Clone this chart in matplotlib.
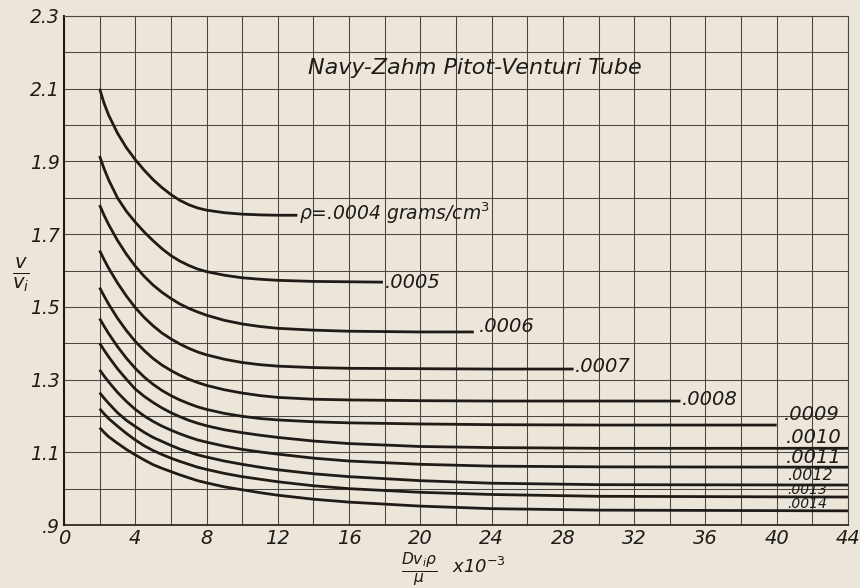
import matplotlib
matplotlib.use("Agg")
import matplotlib.pyplot as plt
import numpy as np

# ---- data ----
densities = [".0004", ".0005", ".0006", ".0007", ".0008", ".0009",
             ".0010", ".0011", ".0012", ".0013", ".0014"]

x_head = [2, 2.25, 2.5, 3, 3.5, 4, 4.5, 5, 5.5, 6, 6.5, 7, 7.5, 8, 9, 10, 11, 12]

x_0004 = x_head + [13.1]
y_0004 = [2.100, 2.060, 2.028, 1.978, 1.938, 1.905, 1.876, 1.850, 1.828, 1.809, 1.793, 1.781, 1.772,
          1.766, 1.759, 1.755, 1.753, 1.752, 1.752]

x_0005 = x_head + [14, 16, 17.9]
y_0005 = [1.915, 1.880, 1.850, 1.800, 1.763, 1.733, 1.706, 1.682, 1.660, 1.641, 1.626, 1.614, 1.604,
          1.597, 1.587, 1.580, 1.576, 1.573, 1.570, 1.569, 1.568]

x_0006 = x_head + [14, 16, 20, 23]
y_0006 = [1.780, 1.752, 1.727, 1.683, 1.645, 1.612, 1.584, 1.560, 1.540, 1.523, 1.508, 1.496, 1.486,
          1.477, 1.463, 1.453, 1.446, 1.441, 1.436, 1.433, 1.431, 1.431]

x_0007 = x_head + [14, 16, 20, 24, 28.6]
y_0007 = [1.655, 1.630, 1.607, 1.566, 1.530, 1.498, 1.471, 1.448, 1.428, 1.412, 1.398, 1.386, 1.376,
          1.368, 1.356, 1.347, 1.341, 1.337, 1.333, 1.331, 1.330, 1.329, 1.329]

x_0008 = x_head + [14, 16, 20, 24, 30, 34.6]
y_0008 = [1.553, 1.530, 1.508, 1.469, 1.435, 1.405, 1.380, 1.358, 1.340, 1.325, 1.312, 1.301, 1.292,
          1.284, 1.272, 1.263, 1.256, 1.251, 1.246, 1.244, 1.242, 1.241, 1.241, 1.241]

x_0009 = x_head + [14, 16, 20, 24, 30, 40]
y_0009 = [1.468, 1.447, 1.427, 1.391, 1.359, 1.331, 1.307, 1.287, 1.270, 1.256, 1.244, 1.234, 1.225,
          1.218, 1.207, 1.199, 1.193, 1.189, 1.184, 1.181, 1.178, 1.176, 1.175, 1.175]

x_0010 = x_head + [14, 16, 20, 24, 30, 44]
y_0010 = [1.400, 1.381, 1.363, 1.330, 1.301, 1.274, 1.254, 1.237, 1.222, 1.209, 1.198, 1.188, 1.180,
          1.173, 1.162, 1.154, 1.147, 1.141, 1.131, 1.124, 1.116, 1.113, 1.111, 1.111]

x_0011 = x_head + [14, 16, 20, 24, 30, 44]
y_0011 = [1.327, 1.310, 1.294, 1.265, 1.240, 1.218, 1.200, 1.185, 1.172, 1.161, 1.151, 1.142, 1.134,
          1.128, 1.117, 1.108, 1.101, 1.095, 1.084, 1.076, 1.067, 1.062, 1.060, 1.059]

x_0012 = x_head + [14, 16, 20, 24, 30, 44]
y_0012 = [1.264, 1.249, 1.235, 1.209, 1.188, 1.171, 1.155, 1.141, 1.130, 1.119, 1.109, 1.101, 1.093,
          1.087, 1.076, 1.067, 1.059, 1.052, 1.041, 1.033, 1.022, 1.015, 1.011, 1.010]

x_0013 = x_head + [14, 16, 20, 24, 30, 44]
y_0013 = [1.220, 1.206, 1.193, 1.172, 1.152, 1.134, 1.118, 1.105, 1.094, 1.084, 1.075, 1.067, 1.059,
          1.053, 1.042, 1.033, 1.026, 1.019, 1.008, 1.000, 0.990, 0.984, 0.979, 0.977]

x_0014 = x_head + [14, 16, 20, 24, 30, 44]
y_0014 = [1.168, 1.155, 1.143, 1.125, 1.108, 1.093, 1.079, 1.066, 1.056, 1.047, 1.038, 1.030, 1.022,
          1.016, 1.005, 0.997, 0.989, 0.982, 0.971, 0.963, 0.952, 0.945, 0.941, 0.939]

curve_x = [x_0004, x_0005, x_0006, x_0007, x_0008, x_0009, x_0010, x_0011, x_0012, x_0013, x_0014]
curve_y = [y_0004, y_0005, y_0006, y_0007, y_0008, y_0009, y_0010, y_0011, y_0012, y_0013, y_0014]

label_texts = [r"$\rho$=.0004 grams/cm$^3$", ".0005", ".0006", ".0007", ".0008", ".0009",
               ".0010", ".0011", ".0012", ".0013", ".0014"]
label_x = [13.2, 18.0, 23.3, 28.7, 34.7, 40.4, 40.5, 40.5, 40.6, 40.6, 40.6]
label_y = [1.758, 1.566, 1.445, 1.337, 1.244, 1.203, 1.142, 1.087, 1.036, 0.997, 0.959]
label_size = [13.5, 14, 14, 14, 14, 14, 14, 14, 11.5, 10, 10]

x_ticks = [0, 4, 8, 12, 16, 20, 24, 28, 32, 36, 40, 44]
y_ticks = [0.9, 1.1, 1.3, 1.5, 1.7, 1.9, 2.1, 2.3]
y_tick_labels = [".9", "1.1", "1.3", "1.5", "1.7", "1.9", "2.1", "2.3"]

title = "Navy-Zahm Pitot-Venturi Tube"

# ---- drawing ----
paper = "#ebe5da"
ink = "#1f1b17"
gridc = "#4a453f"

plt.rcParams['font.family'] = ['DejaVu Sans']
plt.rcParams['mathtext.fontset'] = 'dejavusans'

fig = plt.figure(figsize=(8.6, 5.88), dpi=100, facecolor=paper)
ax = fig.add_axes([0.0744, 0.1071, 0.9116, 0.8657])
ax.set_facecolor(paper)
ax.set_xlim(0, 44)
ax.set_ylim(0.9, 2.3)

for xv in np.arange(0, 44.01, 2):
    ax.axvline(xv, color=gridc, lw=0.75, zorder=1)
for yv in np.arange(0.9, 2.301, 0.1):
    ax.axhline(yv, color=gridc, lw=0.75, zorder=1)

for sp in ax.spines.values():
    sp.set_color(gridc)
    sp.set_linewidth(0.8)
ax.spines['left'].set_linewidth(1.5)
ax.spines['left'].set_color(ink)
ax.spines['bottom'].set_linewidth(1.2)
ax.spines['bottom'].set_color(ink)

for xs, ys in zip(curve_x, curve_y):
    ax.plot(xs, ys, color=ink, lw=2.0, solid_capstyle='butt', solid_joinstyle='round', zorder=3)

for t, lx, ly, fs in zip(label_texts, label_x, label_y, label_size):
    ax.text(lx, ly, t, fontsize=fs, style='oblique', color=ink, va='center', ha='left', zorder=4)

ax.text(13.7, 2.157, title, fontsize=16, style='oblique', color=ink, va='center', ha='left')

ax.set_xticks(x_ticks)
ax.set_xticklabels([str(v) for v in x_ticks], fontsize=14, style='oblique', color=ink)
ax.set_yticks(y_ticks)
ax.set_yticklabels(y_tick_labels, fontsize=13.5, style='oblique', color=ink)
ax.tick_params(axis='both', length=0, pad=3)

fig.text(0.024, 0.532, r"$\frac{v}{v_i}$", fontsize=20, color=ink, ha='center', va='center')
fig.text(0.488, 0.031, r"$\frac{D v_i \rho}{\mu}$", fontsize=16, color=ink, ha='center', va='center')
fig.text(0.525, 0.036, r"x10$^{-3}$", fontsize=13, style='oblique', color=ink, ha='left', va='center')

fig.savefig("out.png", dpi=100, facecolor=paper)
